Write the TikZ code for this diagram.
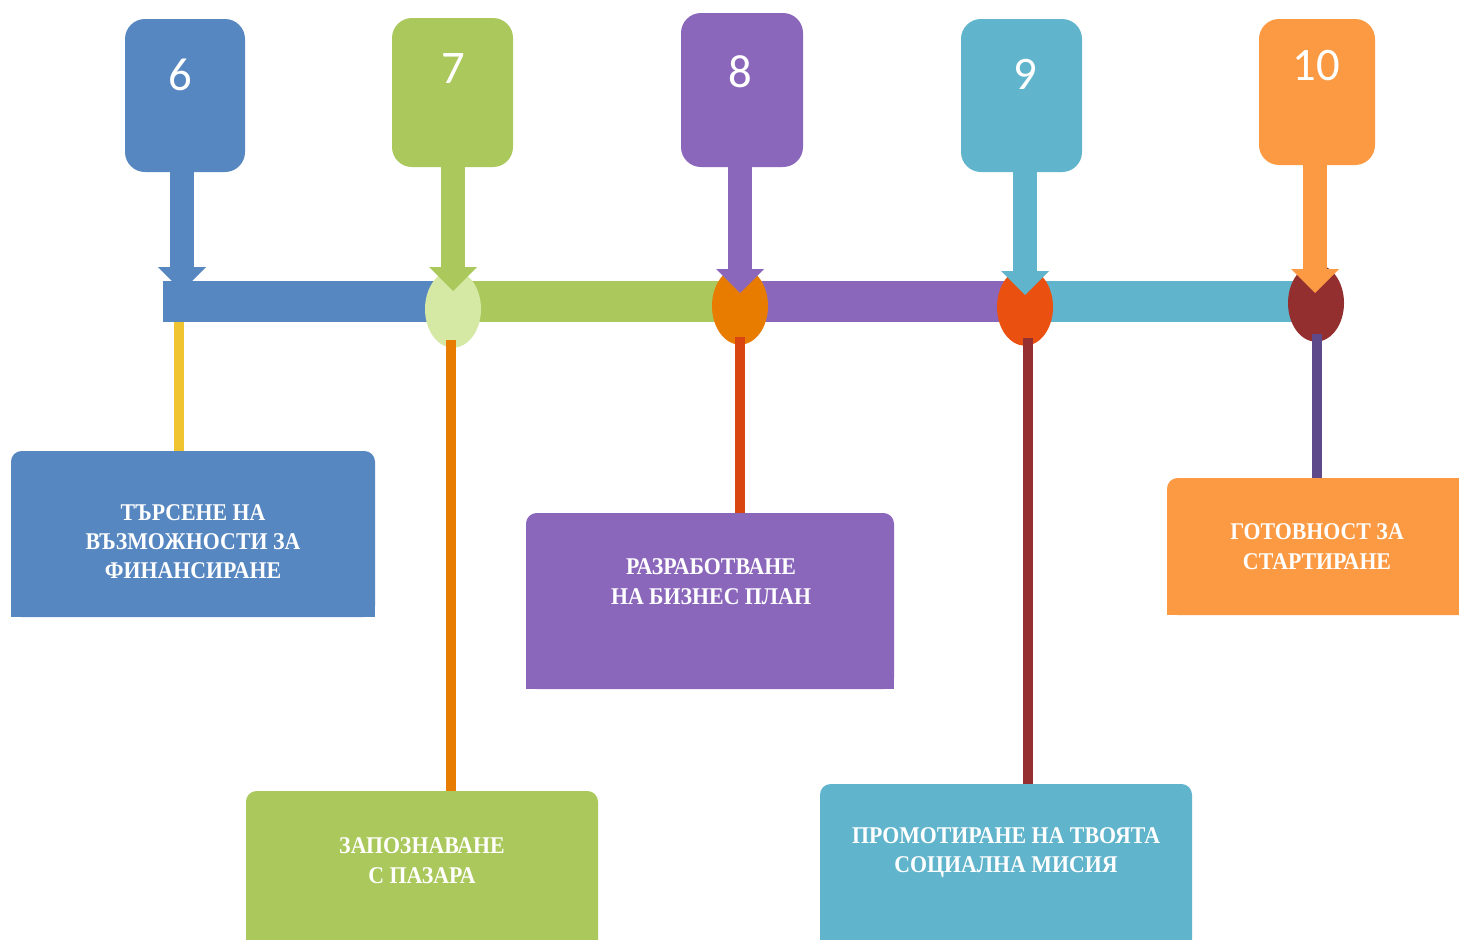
\documentclass[tikz,border=0pt]{standalone}
\usepackage{fontspec}
\setmainfont{Liberation Serif}
\newfontfamily\numfont{Carlito}
\newfontfamily\capfont[FakeStretch=0.91]{Liberation Serif}
\usetikzlibrary{shapes.geometric}

\definecolor{cBlue}{HTML}{5687C1}
\definecolor{cGreen}{HTML}{AAC85C}
\definecolor{cPurple}{HTML}{8B67BB}
\definecolor{cTeal}{HTML}{60B4CB}
\definecolor{cOrange}{HTML}{FB9A43}
\definecolor{ePale}{HTML}{D6E9A4}
\definecolor{eOrange}{HTML}{E77C00}
\definecolor{eRed}{HTML}{EA5010}
\definecolor{eMaroon}{HTML}{932F2E}
\definecolor{lYellow}{HTML}{F0C330}
\definecolor{lOrange}{HTML}{E87C00}
\definecolor{lRed}{HTML}{DA4610}
\definecolor{lMaroon}{HTML}{963030}
\definecolor{lViolet}{HTML}{5E4A8A}

\tikzset{
  numbox/.style={rectangle, rounded corners=15pt, inner sep=0pt},
  numtext/.style={text=white, font=\numfont\fontsize{35}{40}\selectfont, inner sep=0pt},
  shaft/.style={line width=18pt},
  barseg/.style={line width=30.75pt},
  knot/.style={ellipse, inner sep=0pt, minimum width=42pt, minimum height=58pt},
  stem/.style={line width=7.5pt},
  infobox/.style={rectangle, rounded corners=8pt, inner sep=0pt},
  infotext/.style={text=white, align=center, inner sep=0pt,
    font=\capfont\bfseries\fontsize{18}{22}\selectfont},
}

\begin{document}
\begin{tikzpicture}[x=0.75pt, y=-0.75pt]
\clip (0,0) rectangle (1459,939);
\fill[white] (0,0) rectangle (1459,939);

% numbered step boxes along the top
\node[numbox, fill=cBlue,   minimum width=90pt,    minimum height=114.75pt] (n6)  at (185,95.5)   {};
\node[numbox, fill=cGreen,  minimum width=90.75pt, minimum height=111.75pt] (n7)  at (452.5,92.5) {};
\node[numbox, fill=cPurple, minimum width=91.5pt,  minimum height=115.5pt]  (n8)  at (742,90)     {};
\node[numbox, fill=cTeal,   minimum width=90.75pt, minimum height=114.75pt] (n9)  at (1021.5,95.5){};
\node[numbox, fill=cOrange, minimum width=87pt,    minimum height=109.5pt]  (n10) at (1317,92)    {};

\node[numtext] (k6)  at (180,75)  {6};
\node[numtext] (k7)  at (453,69)  {7};
\node[numtext] (k8)  at (740,72)  {8};
\node[numtext] (k9)  at (1025,74) {9};
\node[numtext] (k10) at (1316,66) {10};

% arrow heads: base centre (h) and tip (t)
\coordinate (h6)  at (182,267);  \coordinate (t6)  at (182,291);
\coordinate (h7)  at (453,267);  \coordinate (t7)  at (453,291);
\coordinate (h8)  at (740,269);  \coordinate (t8)  at (740,293);
\coordinate (h9)  at (1025,271); \coordinate (t9)  at (1025,295);
\coordinate (h10) at (1315,269); \coordinate (t10) at (1315,293);

% first arrow sits under the timeline bar
\draw[shaft, cBlue] (n6.south -| h6) -- (h6);
\fill[cBlue] (h6) ++(-24,0) -- ++(24,24) -- ++(24,-24) -- cycle;

% timeline bar between the knot centres
\coordinate (b0)  at (163,301.5);
\coordinate (c7)  at (453,309);
\coordinate (c8)  at (740,306);
\coordinate (c9)  at (1025,307);
\coordinate (c10) at (1316,303);
\draw[barseg, cBlue]   (b0) -- (b0 -| c7);
\draw[barseg, cGreen]  (b0 -| c7) -- (b0 -| c8);
\draw[barseg, cPurple] (b0 -| c8) -- (b0 -| c9);
\draw[barseg, cTeal]   (b0 -| c9) -- (b0 -| c10);

\node[knot, fill=ePale]   (e7)  at (c7)  {};
\node[knot, fill=eOrange] (e8)  at (c8)  {};
\node[knot, fill=eRed]    (e9)  at (c9)  {};
\node[knot, fill=eMaroon] (e10) at (c10) {};

% remaining arrows, over the knots
\draw[shaft, cGreen] (n7.south -| h7) -- (h7);
\fill[cGreen] (h7) ++(-24,0) -- ++(24,24) -- ++(24,-24) -- cycle;
\draw[shaft, cPurple] (n8.south -| h8) -- (h8);
\fill[cPurple] (h8) ++(-24,0) -- ++(24,24) -- ++(24,-24) -- cycle;
\draw[shaft, cTeal] (n9.south -| h9) -- (h9);
\fill[cTeal] (h9) ++(-24,0) -- ++(24,24) -- ++(24,-24) -- cycle;
\draw[shaft, cOrange] (n10.south -| h10) -- (h10);
\fill[cOrange] (h10) ++(-24,0) -- ++(24,24) -- ++(24,-24) -- cycle;

% description boxes (rounded on top only)
\node[infobox, fill=cBlue,   minimum width=273pt, minimum height=124.5pt] (bA) at (193,534)    {};
\node[infobox, fill=cGreen,  minimum width=264pt, minimum height=126.75pt](bB) at (422,875.5)  {};
\node[infobox, fill=cPurple, minimum width=276pt, minimum height=132pt]   (bC) at (710,601)    {};
\node[infobox, fill=cTeal,   minimum width=279pt, minimum height=132pt]   (bD) at (1006,872)   {};
\node[infobox, fill=cOrange, minimum width=231pt, minimum height=102.75pt](bE) at (1321,546.5) {};
\fill[cBlue]   (bA.west) rectangle (bA.south east);
\fill[cGreen]  (bB.west) rectangle (bB.south east);
\fill[cPurple] (bC.west) rectangle (bC.south east);
\fill[cTeal]   (bD.west) rectangle (bD.south east);
\fill[cOrange] (bE.west) rectangle (bE.south east);

% stems from the timeline down to the boxes
\coordinate (s6) at (179,322);
\draw[stem, lYellow] (s6) -- (s6 |- bA.north);
\draw[stem, lOrange] (e7.south -| 451,0) ++(0,-8) -- (451,0 |- bB.north);
\draw[stem, lRed]    (e8.south -| 740,0) ++(0,-8) -- (740,0 |- bC.north);
\draw[stem, lMaroon] (e9.south -| 1028,0) ++(0,-8) -- (1028,0 |- bD.north);
\draw[stem, lViolet] (e10.south -| 1317,0) ++(0,-8) -- (1317,0 |- bE.north);

% box captions
\node[infotext] (tA) at (193,541.5) {ТЪРСЕНЕ НА\\ВЪЗМОЖНОСТИ ЗА\\ФИНАНСИРАНЕ};
\node[infotext] (tB) at (422,860.5) {ЗАПОЗНАВАНЕ\\С ПАЗАРА};
\node[infotext] (tC) at (711,581.5) {РАЗРАБОТВАНЕ\\НА БИЗНЕС ПЛАН};
\node[infotext] (tD) at (1006,852.5){ПРОМОТИРАНЕ НА ТВОЯТА\\СОЦИАЛНА МИСИЯ};
\node[infotext] (tE) at (1317,546.5){ГОТОВНОСТ ЗА\\СТАРТИРАНЕ};
\end{tikzpicture}
\end{document}
